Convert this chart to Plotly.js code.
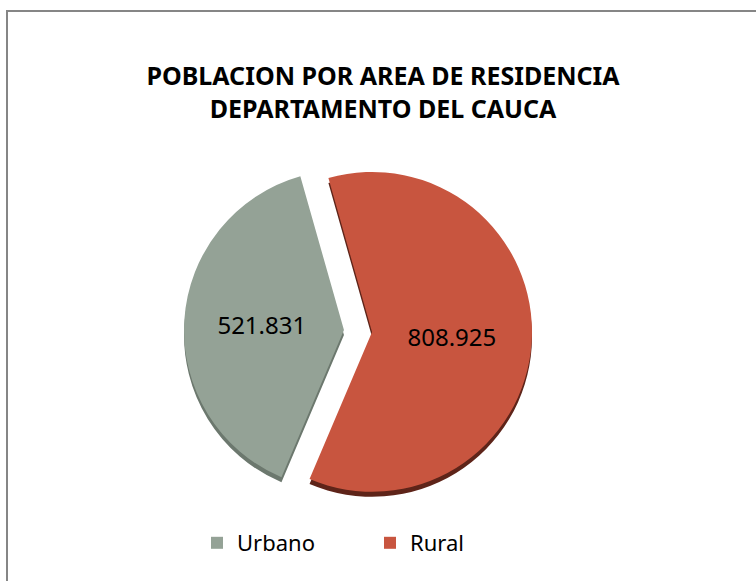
<!DOCTYPE html>
<html>
<head>
<meta charset="utf-8">
<script src="https://cdn.plot.ly/plotly-3.0.1.min.js"></script>
<style>html,body{margin:0;padding:0;background:#fff}#chart{width:756px;height:581px}</style>
</head>
<body>
<div id="chart"></div>
<script>
const categories = ['Urbano', 'Rural'];
const values = [521831, 808925];
const sliceColors = ['#94A296', '#C8553F'];
const sideColors = ['#6C786E', '#5E2419'];
const titleText = 'POBLACION POR AREA DE RESIDENCIA<br>DEPARTAMENTO DEL CAUCA';

const W = 756, H = 581;
const cx = 358, cy = 331, half = 174;
const dom = (dy) => ({
  x: [(cx - half) / W, (cx + half) / W],
  y: [(H - cy - dy - half) / H, (H - cy - dy + half) / H]
});

const common = {
  type: 'pie',
  labels: categories,
  values: values,
  sort: false,
  direction: 'clockwise',
  rotation: 203,
  pull: [0.088, 0.088],
  hoverinfo: 'none'
};

const side = Object.assign({}, common, {
  domain: dom(5),
  marker: {colors: sideColors, line: {width: 0}},
  textinfo: 'none',
  showlegend: false
});

const main = Object.assign({}, common, {
  domain: dom(0),
  marker: {colors: sliceColors, line: {width: 0}},
  textinfo: 'value',
  textposition: 'inside',
  insidetextorientation: 'horizontal',
  textfont: {family: 'Noto Sans, sans-serif', size: 24, color: '#000'}
});

const layout = {
  width: W, height: H,
  margin: {l: 0, r: 0, t: 0, b: 0},
  paper_bgcolor: '#fff',
  separators: ',.',
  font: {family: 'Noto Sans, sans-serif', color: '#000'},
  title: {
    text: titleText,
    font: {family: 'Noto Sans, sans-serif', size: 25, weight: 'bold', color: '#000'},
    x: 383 / W, xanchor: 'center',
    y: 1 - 85 / H, yanchor: 'middle', yref: 'container'
  },
  showlegend: true,
  legend: {
    orientation: 'h',
    x: 197 / W, xanchor: 'left',
    y: 38 / H, yanchor: 'middle',
    font: {family: 'Noto Sans, sans-serif', size: 22, color: '#000'},
    entrywidth: 128, entrywidthmode: 'pixels',
    traceorder: 'normal'
  },
  shapes: [{
    type: 'rect', xref: 'paper', yref: 'paper',
    x0: 7 / W, x1: 1.05, y0: -0.05, y1: 1 - 11 / H,
    line: {color: '#868686', width: 2}, fillcolor: 'rgba(0,0,0,0)'
  }]
};

Plotly.newPlot('chart', [side, main], layout, {staticPlot: true, displayModeBar: false});
</script>
</body>
</html>
